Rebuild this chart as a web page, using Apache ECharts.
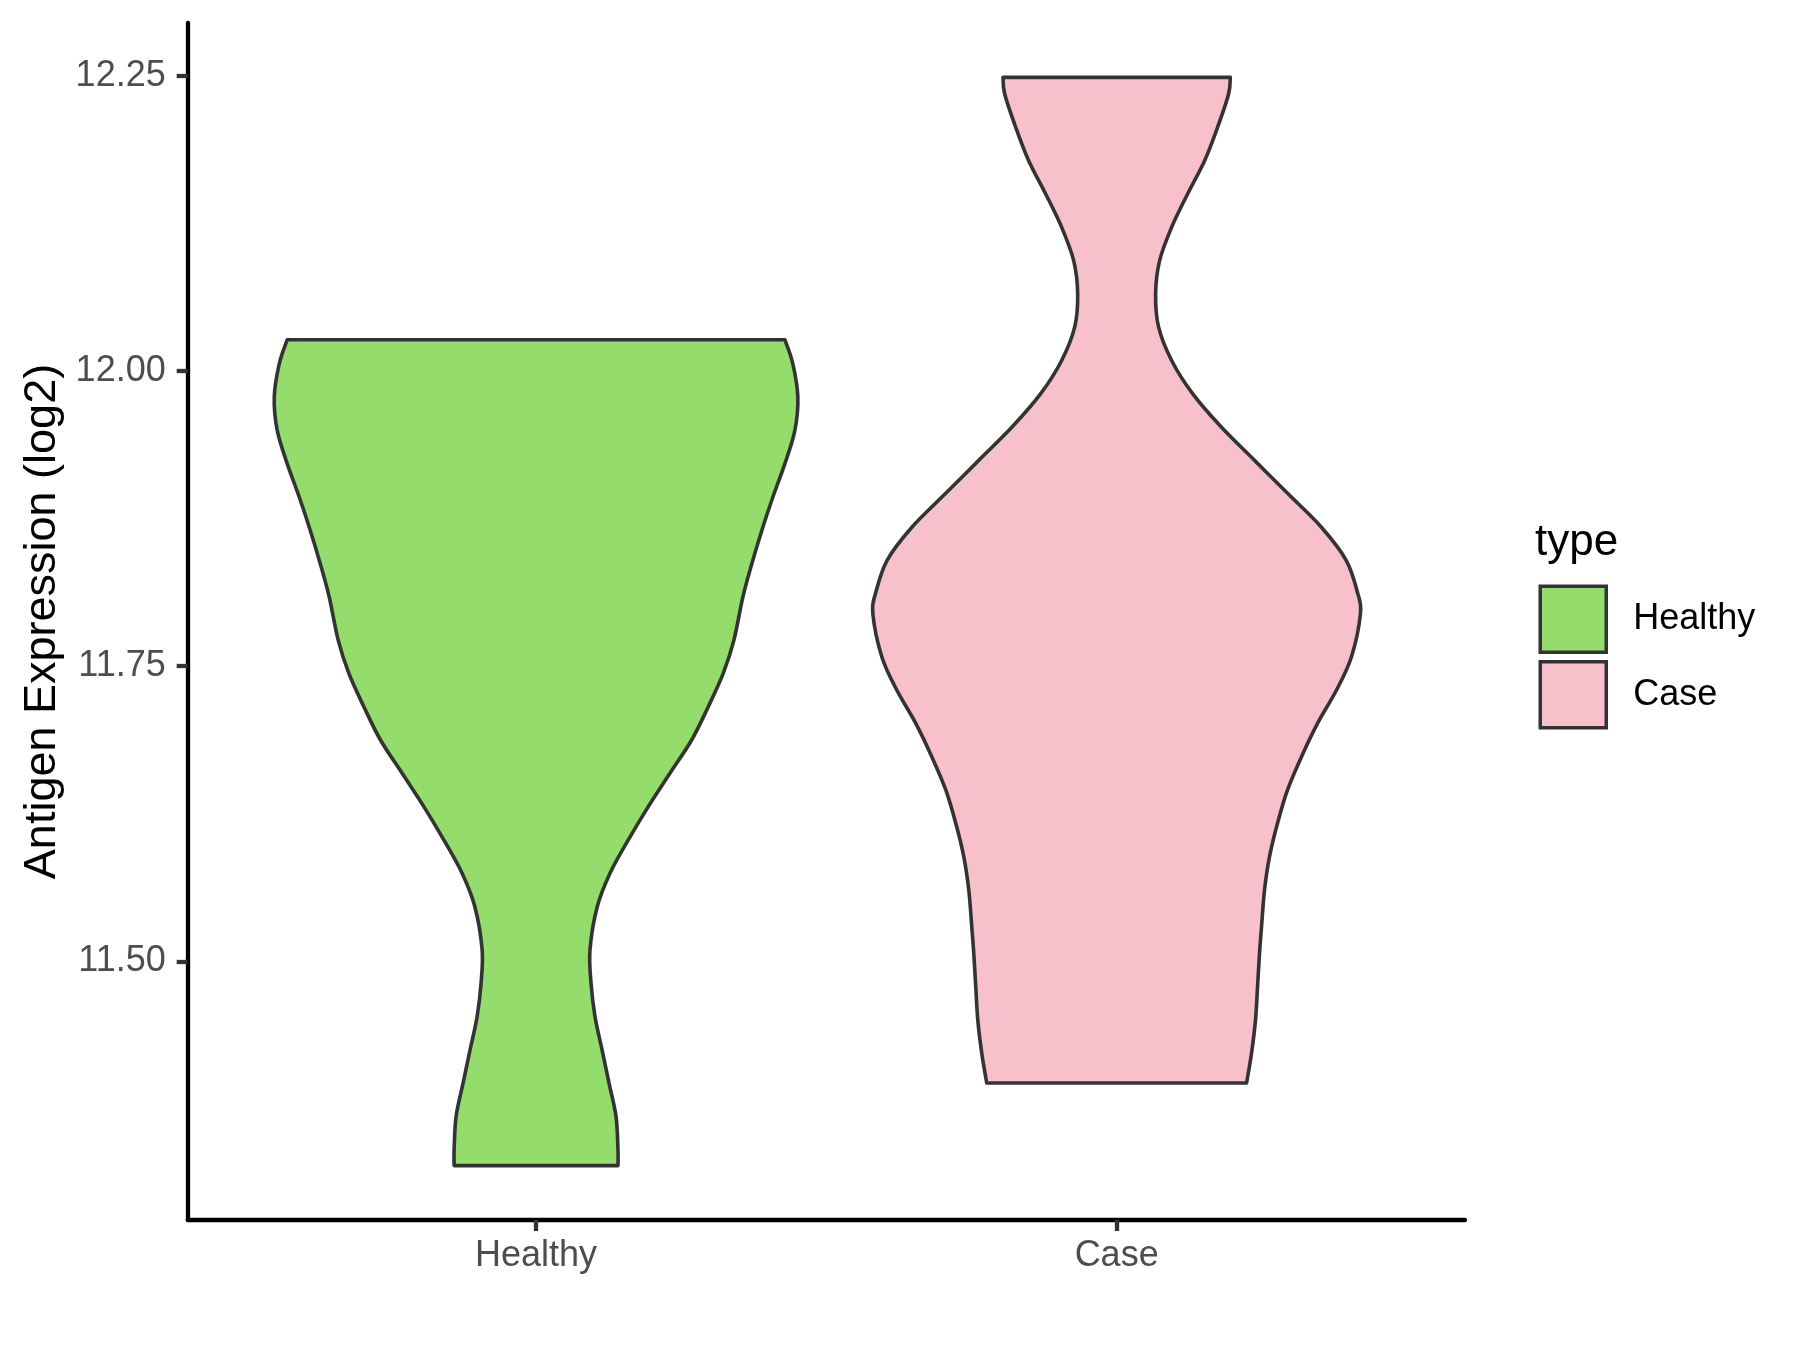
<!DOCTYPE html>
<html><head><meta charset="utf-8">
<script src="https://cdn.jsdelivr.net/npm/echarts@6/dist/echarts.min.js"></script>
<style>html,body{margin:0;padding:0;background:#fff}#c{width:1800px;height:1350px}</style>
</head><body><div id="c"></div>
<script>
// Categories and violin outlines (value, half-width in category units)
const categories = ['Healthy', 'Case'];
const healthyValues = [12.0264, 12.0061, 11.9779, 11.9497, 11.9215, 11.8933, 11.8651, 11.8370, 11.8087, 11.7721, 11.7439, 11.7157, 11.6875, 11.6593, 11.6311, 11.6029, 11.5747, 11.5465, 11.5099, 11.4817, 11.4534, 11.4253, 11.3971, 11.3689, 11.3407, 11.3271];
const healthyHalfWidth = [0.4286, 0.4423, 0.4509, 0.4458, 0.4286, 0.4079, 0.3890, 0.3718, 0.3563, 0.3408, 0.3224, 0.2966, 0.2680, 0.2306, 0.1933, 0.1589, 0.1274, 0.1055, 0.0929, 0.0947, 0.1015, 0.1136, 0.1256, 0.1377, 0.1411, 0.1411];
const caseValues = [12.2486, 12.2345, 12.2063, 12.1781, 12.1499, 12.1217, 12.0935, 12.0653, 12.0371, 12.0089, 11.9808, 11.9525, 11.9243, 11.8962, 11.8679, 11.8397, 11.8116, 11.7947, 11.7580, 11.7298, 11.7016, 11.6734, 11.6452, 11.6170, 11.5888, 11.5606, 11.5296, 11.5071, 11.4788, 11.4506, 11.4225, 11.3971];
const caseHalfWidth = [0.1957, 0.1928, 0.1738, 0.1515, 0.1222, 0.0947, 0.0740, 0.0671, 0.0723, 0.0947, 0.1308, 0.1802, 0.2375, 0.2948, 0.3523, 0.3954, 0.4153, 0.4200, 0.4045, 0.3787, 0.3460, 0.3184, 0.2943, 0.2771, 0.2633, 0.2547, 0.2496, 0.2461, 0.2427, 0.2392, 0.2324, 0.2238];
const yTickValues = [11.5, 11.75, 12.0, 12.25];
const fillColors = ['#94DC6C', '#F7C0CB'];

const profiles = [
  { values: healthyValues, half: healthyHalfWidth },
  { values: caseValues, half: caseHalfWidth }
];
const allVals = healthyValues.concat(caseValues);
const dMin = Math.min.apply(null, allVals), dMax = Math.max.apply(null, allVals);
const pad = 0.05 * (dMax - dMin);

function bez(pts) {
  let d = '';
  const n = pts.length;
  for (let i = 0; i < n - 1; i++) {
    const p0 = pts[Math.max(i - 1, 0)], p1 = pts[i], p2 = pts[i + 1], p3 = pts[Math.min(i + 2, n - 1)];
    const c1x = p1[0] + (p2[0] - p0[0]) / 6, c1y = p1[1] + (p2[1] - p0[1]) / 6;
    const c2x = p2[0] - (p3[0] - p1[0]) / 6, c2y = p2[1] - (p3[1] - p1[1]) / 6;
    d += 'C' + c1x + ',' + c1y + ' ' + c2x + ',' + c2y + ' ' + p2[0] + ',' + p2[1];
  }
  return d;
}

function makeRender(idx) {
  return function (params, api) {
    const prof = profiles[idx];
    const cx = api.value(0);
    const left = prof.values.map((v, i) => api.coord([cx - prof.half[i], v]));
    const right = prof.values.map((v, i) => api.coord([cx + prof.half[i], v])).reverse();
    const d = 'M' + left[0][0] + ',' + left[0][1] + bez(left) +
      'L' + right[0][0] + ',' + right[0][1] + bez(right) + 'Z';
    return {
      type: 'path',
      shape: { pathData: d },
      style: { fill: fillColors[idx], stroke: '#333333', lineWidth: 3.6, lineJoin: 'round' }
    };
  };
}

const FONT = '"Liberation Sans", Arial, sans-serif';
const chart = echarts.init(document.getElementById('c'), null, { renderer: 'canvas' });
chart.setOption({
  animation: false,
  backgroundColor: '#ffffff',
  textStyle: { fontFamily: FONT },
  title: {
    text: 'type', left: 1535, top: 521, padding: 0,
    textStyle: { fontSize: 44, fontWeight: 'normal', color: '#000', fontFamily: FONT }
  },
  legend: {
    orient: 'vertical', left: 1538.5, top: 584.5, padding: 0,
    itemWidth: 66, itemHeight: 66, itemGap: 6,
    selectedMode: false,
    textStyle: { fontSize: 36, color: '#000', fontFamily: FONT, padding: [0, 0, 0, 22] },
    data: categories.map((c, i) => ({
      name: c, icon: 'rect',
      itemStyle: { color: fillColors[i], borderColor: '#333333', borderWidth: 3.5 }
    }))
  },
  grid: { left: 187.7, right: 335, top: 23, bottom: 130, containLabel: false },
  xAxis: {
    type: 'value', min: 0.4, max: 2.6,
    axisLine: { show: true, lineStyle: { color: '#000', width: 4.3 } },
    axisTick: { show: true, customValues: [1, 2], length: 11, lineStyle: { color: '#333', width: 4.3 } },
    axisLabel: {
      customValues: [1, 2], formatter: v => categories[Math.round(v) - 1],
      fontSize: 36, color: '#4D4D4D', margin: 18, fontFamily: FONT
    },
    splitLine: { show: false }
  },
  yAxis: {
    type: 'value', min: dMin - pad, max: dMax + pad,
    name: 'Antigen Expression (log2)', nameLocation: 'middle', nameRotate: 90, nameGap: 122,
    nameTextStyle: { fontSize: 45, color: '#000', fontFamily: FONT },
    axisLine: { show: true, lineStyle: { color: '#000', width: 4.3 } },
    axisTick: { show: true, customValues: yTickValues, length: 11, lineStyle: { color: '#333', width: 4.3 } },
    axisLabel: {
      customValues: yTickValues, formatter: v => v.toFixed(2),
      fontSize: 36, color: '#4D4D4D', margin: 22, fontFamily: FONT
    },
    splitLine: { show: false }
  },
  series: categories.map((c, i) => ({
    type: 'custom', name: c,
    data: [[i + 1, Math.max.apply(null, profiles[i].values)]],
    encode: { x: 0, y: 1 },
    itemStyle: { color: fillColors[i] },
    renderItem: makeRender(i)
  }))
});
</script>
</body></html>
